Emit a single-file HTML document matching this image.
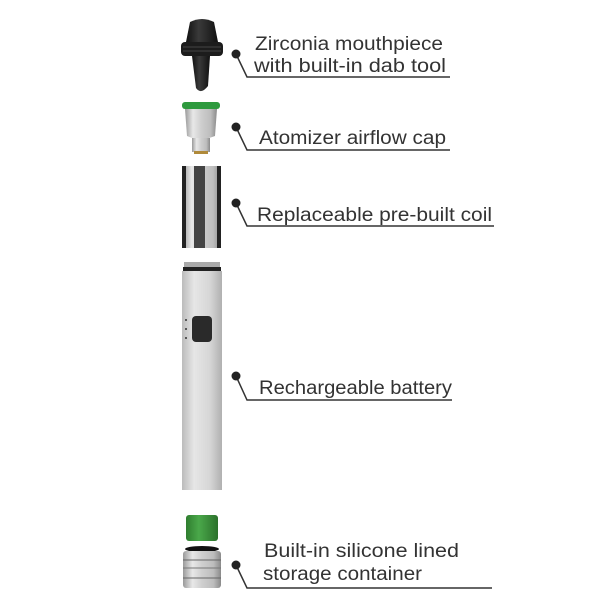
<!DOCTYPE html>
<html><head><meta charset="utf-8"><style>
html,body{margin:0;padding:0;background:#fff}
svg{display:block}
text{font-family:"Liberation Sans",sans-serif;font-size:19px;fill:#333}
</style></head><body>
<svg width="600" height="600" viewBox="0 0 600 600">
<defs>
<linearGradient id="met" x1="0" x2="1">
<stop offset="0" stop-color="#9a9a9a"/><stop offset="0.25" stop-color="#e8e8e8"/><stop offset="0.5" stop-color="#cfcfcf"/><stop offset="0.8" stop-color="#bdbdbd"/><stop offset="1" stop-color="#8a8a8a"/>
</linearGradient>
<linearGradient id="bat" x1="0" x2="1">
<stop offset="0" stop-color="#bbb"/><stop offset="0.3" stop-color="#e6e6e6"/><stop offset="0.7" stop-color="#d6d6d6"/><stop offset="1" stop-color="#b0b0b0"/>
</linearGradient>
<linearGradient id="blk" x1="0" x2="1">
<stop offset="0" stop-color="#111"/><stop offset="0.4" stop-color="#3a3a3a"/><stop offset="1" stop-color="#111"/>
</linearGradient>
<linearGradient id="grn" x1="0" x2="1">
<stop offset="0" stop-color="#2f7d2f"/><stop offset="0.4" stop-color="#4aa84a"/><stop offset="1" stop-color="#2b712b"/>
</linearGradient>
</defs>
<!-- mouthpiece -->
<path d="M190 22 Q202 16 214 22 L218 42 L186 42 Z" fill="url(#blk)"/>
<rect x="181" y="42" width="42" height="14" rx="4" fill="#1c1c1c"/>
<line x1="183" y1="47" x2="221" y2="47" stroke="#444" stroke-width="1"/>
<line x1="183" y1="51" x2="221" y2="51" stroke="#444" stroke-width="1"/>
<path d="M192 56 L210 56 L208 86 Q201 95 196 88 Z" fill="url(#blk)"/>
<!-- atomizer -->
<rect x="182" y="102" width="38" height="7" rx="3" fill="#2e9a3e"/>
<path d="M185 109 L217 109 L215 136 Q200 142 187 136 Z" fill="url(#met)"/>
<rect x="192" y="138" width="18" height="14" fill="url(#met)"/>
<rect x="194" y="151" width="14" height="3" fill="#b08a3a"/>
<!-- coil -->
<rect x="182" y="166" width="39" height="82" fill="url(#met)"/>
<rect x="182" y="166" width="4" height="82" fill="#222"/>
<rect x="217" y="166" width="4" height="82" fill="#222"/>
<rect x="194" y="166" width="11" height="82" fill="#444"/>
<!-- battery -->
<rect x="184" y="262" width="36" height="6" fill="#aaa"/>
<rect x="183" y="267" width="38" height="4" fill="#222"/>
<rect x="182" y="271" width="40" height="219" fill="url(#bat)"/>
<rect x="192" y="316" width="20" height="26" rx="4" fill="#2a2a2a"/>
<circle cx="186" cy="320" r="1" fill="#333"/><circle cx="186" cy="329" r="1" fill="#333"/><circle cx="186" cy="338" r="1" fill="#333"/>
<!-- green cap -->
<rect x="186" y="515" width="32" height="26" rx="3" fill="url(#grn)"/>
<!-- storage -->
<ellipse cx="202" cy="549" rx="17" ry="3" fill="#111"/>
<rect x="183" y="551" width="38" height="37" rx="3" fill="url(#met)"/>
<line x1="183" y1="560" x2="221" y2="560" stroke="#666"/>
<line x1="183" y1="568" x2="221" y2="568" stroke="#777"/>
<line x1="183" y1="578" x2="221" y2="578" stroke="#666"/>
<!-- leaders -->
<g stroke="#333" stroke-width="1.5" fill="none">
<polyline points="236,54 247,77 450,77"/>
<polyline points="236,127 247,150 450,150"/>
<polyline points="236,203 247,226 494,226"/>
<polyline points="236,376 247,400 452,400"/>
<polyline points="236,565 247,588 492,588"/>
</g>
<g fill="#222">
<circle cx="236" cy="54" r="4.5"/><circle cx="236" cy="127" r="4.5"/><circle cx="236" cy="203" r="4.5"/><circle cx="236" cy="376" r="4.5"/><circle cx="236" cy="565" r="4.5"/>
</g>
<text x="255" y="50" textLength="188" lengthAdjust="spacingAndGlyphs">Zirconia mouthpiece</text>
<text x="254" y="72" textLength="192" lengthAdjust="spacingAndGlyphs">with built-in dab tool</text>
<text x="259" y="144" textLength="187" lengthAdjust="spacingAndGlyphs">Atomizer airflow cap</text>
<text x="257" y="221" textLength="235" lengthAdjust="spacingAndGlyphs">Replaceable pre-built coil</text>
<text x="259" y="394" textLength="193" lengthAdjust="spacingAndGlyphs">Rechargeable battery</text>
<text x="264" y="557" textLength="195" lengthAdjust="spacingAndGlyphs">Built-in silicone lined</text>
<text x="263" y="580" textLength="159" lengthAdjust="spacingAndGlyphs">storage container</text>
</svg>
</body></html>
